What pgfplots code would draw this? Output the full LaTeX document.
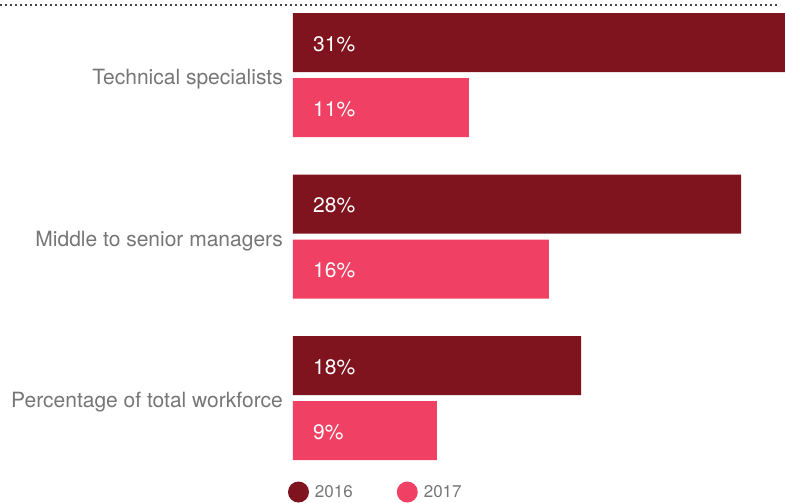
\documentclass[border=0pt]{standalone}
\usepackage{pgfplots}
\pgfplotsset{compat=1.18}
\usepackage{fontspec}
\setmainfont{TeX Gyre Heros}
\definecolor{c2016}{HTML}{7F141E}
\definecolor{c2017}{HTML}{F04064}
\definecolor{labelgray}{HTML}{767676}
\definecolor{dotgray}{HTML}{444444}
\begin{document}
\begin{tikzpicture}
\begin{axis}[
    name=ax,
    xbar,
    clip=false,
    x=16bp, y=161.5bp,
    xmin=0, xmax=31,
    ymin=-0.4644, ymax=2.644,
    y dir=reverse,
    axis line style={draw=none},
    major tick length=0pt,
    xtick=\empty,
    ytick={0,1,2},
    yticklabels={Technical specialists,Middle to senior managers,Percentage of total workforce},
    yticklabel style={font=\fontsize{21bp}{25bp}\selectfont, text=labelgray, inner sep=0pt, xshift=-10bp, yshift=-4.5bp},
    bar width=59bp,
    point meta=x,
    visualization depends on={x \as \xv},
    nodes near coords={\pgfmathprintnumber{\pgfplotspointmeta}\%},
    nodes near coords style={anchor=west, text=white, font=\fontsize{21bp}{25bp}\selectfont, inner sep=0pt,
        xshift=20bp-\xv*16bp, yshift=-1.5bp, /pgf/number format/assume math mode=true},
    legend columns=2,
    legend image code/.code={\path[fill] (10.5bp,0bp) circle (10.5bp);},
    legend style={at={(axis description cs:-0.01008,0.0199)}, anchor=west, draw=none, fill=none,
        inner sep=0pt, outer sep=0pt, font=\fontsize{17bp}{20bp}\selectfont, text=labelgray,
        nodes={inner sep=0pt, text=labelgray},
        /tikz/every odd column/.append style={column sep=6bp},
        /tikz/every even column/.append style={column sep=44bp}},
]
\addplot[fill=c2016, draw=none, bar shift=32.5bp] coordinates {(31,0) (28,1) (18,2)};
\addlegendentry{2016}
\addplot[fill=c2017, draw=none, bar shift=-32.5bp] coordinates {(11,0) (16,1) (9,2)};
\addlegendentry{2017}
\end{axis}
\draw[line width=2bp, dash pattern=on 2bp off 3bp, dotgray]
    ([xshift=-293bp, yshift=-5bp]ax.north west) -- ([xshift=-9bp, yshift=-5bp]ax.north east);
\pgfresetboundingbox
\path ([xshift=-293bp]ax.north west) rectangle ([xshift=-4bp]ax.south east);
\end{tikzpicture}
\end{document}
